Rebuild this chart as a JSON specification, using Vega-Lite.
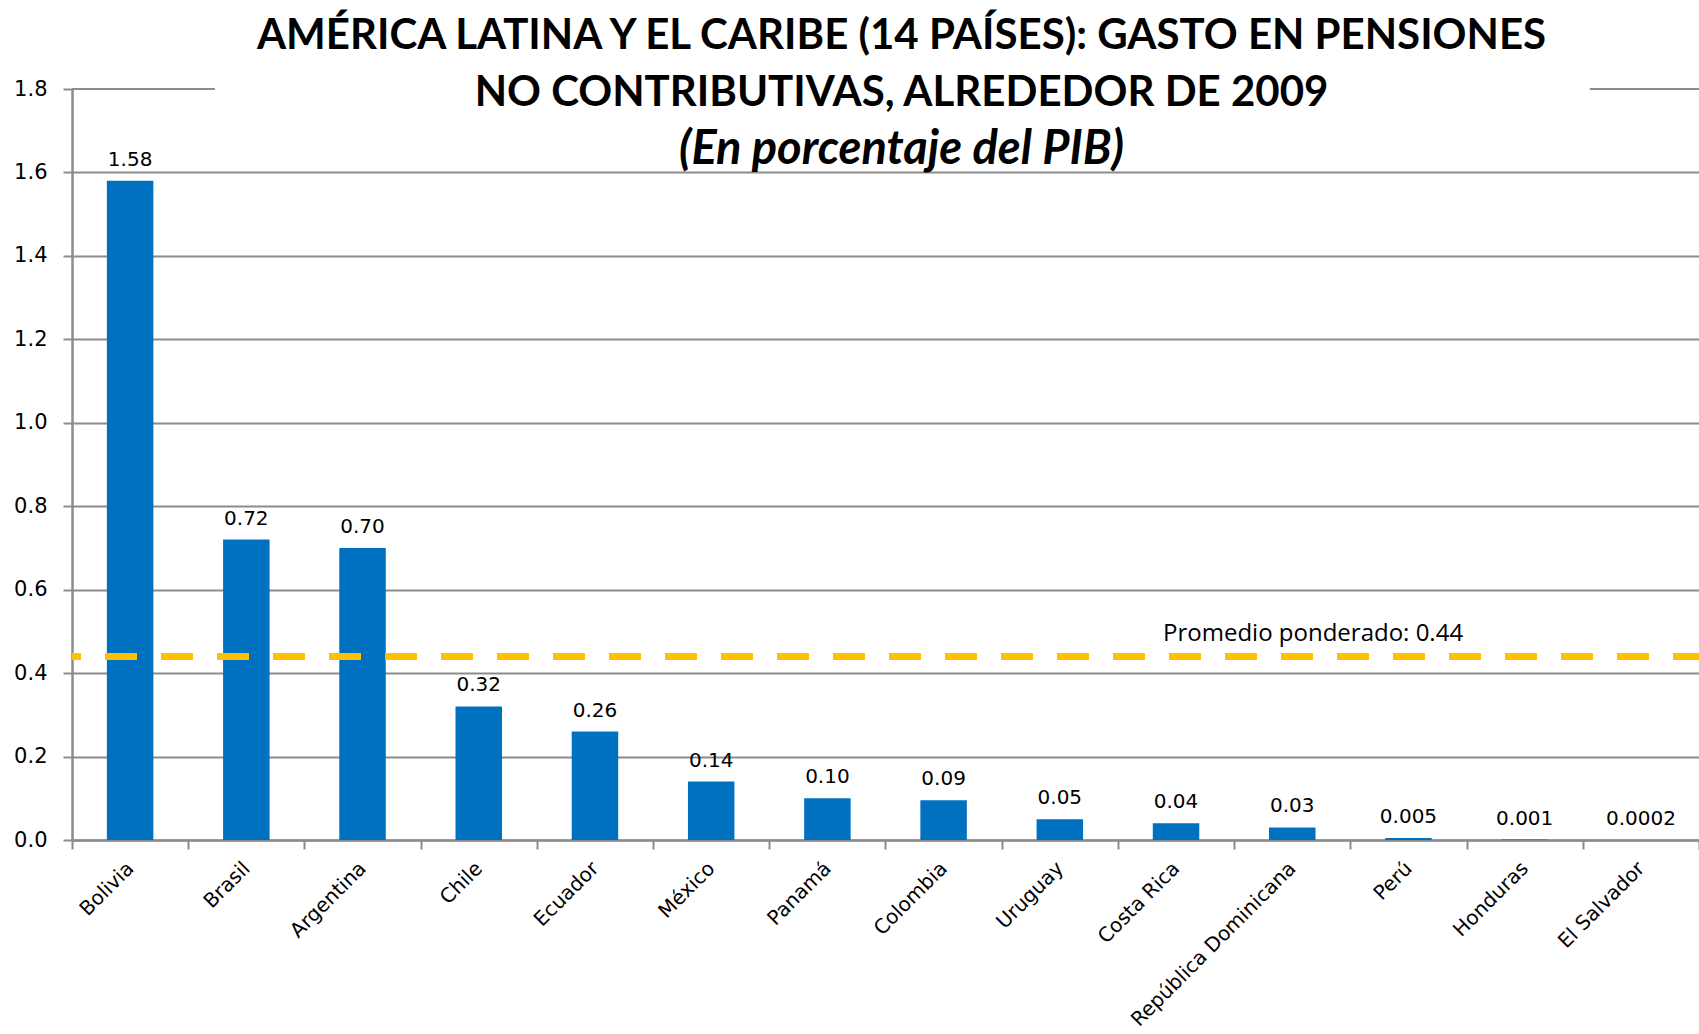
{
  "$schema": "https://vega.github.io/schema/vega-lite/v6.json",
  "width": 1627,
  "height": 751,
  "autosize": "none",
  "padding": {"left": 72, "top": 89, "right": 0, "bottom": 194},
  "background": "white",
  "title": {
    "text": ["AMÉRICA LATINA Y EL CARIBE (14 PAÍSES): GASTO EN PENSIONES", "NO CONTRIBUTIVAS, ALREDEDOR DE 2009"],
    "subtitle": "(En porcentaje del PIB)",
    "anchor": "middle",
    "frame": "group",
    "offset": -96,
    "dx": 16,
    "font": "Lato",
    "fontSize": 42,
    "fontWeight": "bold",
    "lineHeight": 57,
    "color": "#000000",
    "subtitleFont": "Lato",
    "subtitleFontSize": 47,
    "subtitleFontWeight": "bold",
    "subtitleFontStyle": "italic",
    "subtitleColor": "#000000",
    "subtitleLineHeight": 57,
    "subtitlePadding": 12
  },
  "config": {
    "view": {"stroke": null},
    "axis": {"labelFont": "DejaVu Sans", "labelColor": "#000000"}
  },
  "data": {
    "values": [
      {"pais": "Bolivia", "valor": 1.58, "etiqueta": "1.58"},
      {"pais": "Brasil", "valor": 0.72, "etiqueta": "0.72"},
      {"pais": "Argentina", "valor": 0.70, "etiqueta": "0.70"},
      {"pais": "Chile", "valor": 0.32, "etiqueta": "0.32"},
      {"pais": "Ecuador", "valor": 0.26, "etiqueta": "0.26"},
      {"pais": "México", "valor": 0.14, "etiqueta": "0.14"},
      {"pais": "Panamá", "valor": 0.10, "etiqueta": "0.10"},
      {"pais": "Colombia", "valor": 0.095, "etiqueta": "0.09"},
      {"pais": "Uruguay", "valor": 0.05, "etiqueta": "0.05"},
      {"pais": "Costa Rica", "valor": 0.04, "etiqueta": "0.04"},
      {"pais": "República Dominicana", "valor": 0.03, "etiqueta": "0.03"},
      {"pais": "Perú", "valor": 0.005, "etiqueta": "0.005"},
      {"pais": "Honduras", "valor": 0.001, "etiqueta": "0.001"},
      {"pais": "El Salvador", "valor": 0.0002, "etiqueta": "0.0002"}
    ]
  },
  "layer": [
    {
      "mark": {"type": "bar", "color": "#0070C0", "width": {"band": 0.4}},
      "encoding": {
        "x": {
          "field": "pais", "type": "nominal", "sort": null,
          "scale": {"paddingInner": 0, "paddingOuter": 0},
          "axis": {
            "title": null,
            "labelAngle": -45,
            "labelAlign": "right",
            "labelBaseline": "middle",
            "labelFontSize": 20,
            "labelPadding": 16,
            "labelLimit": 0,
            "tickBand": "extent",
            "tickSize": 9,
            "tickWidth": 2,
            "tickColor": "#8c8c8c",
            "domainColor": "#8c8c8c",
            "domainWidth": 2.5,
            "grid": false
          }
        },
        "y": {
          "field": "valor", "type": "quantitative",
          "scale": {"domain": [0, 1.8], "nice": false},
          "axis": {
            "title": null,
            "values": [0, 0.2, 0.4, 0.6, 0.8, 1.0, 1.2, 1.4, 1.6, 1.8],
            "format": ".1f",
            "labelFontSize": 21,
            "labelPadding": 16,
            "tickSize": 9,
            "tickWidth": 2,
            "tickColor": "#8c8c8c",
            "domainColor": "#8c8c8c",
            "domainWidth": 2.5,
            "grid": true,
            "gridColor": {"condition": {"test": "datum.value >= 1.75", "value": "rgba(0,0,0,0)"}, "value": "#8c8c8c"},
            "gridWidth": 2
          }
        }
      }
    },
    {
      "mark": {"type": "text", "font": "DejaVu Sans", "fontSize": 20, "color": "#000000", "baseline": "alphabetic", "dy": -15},
      "encoding": {
        "x": {"field": "pais", "type": "nominal", "sort": null},
        "y": {"field": "valor", "type": "quantitative"},
        "text": {"field": "etiqueta"}
      }
    },
    {
      "data": {"values": [{}]},
      "mark": {"type": "rule", "color": "#8c8c8c", "strokeWidth": 2},
      "encoding": {
        "x": {"datum": "Bolivia", "type": "nominal", "bandPosition": 0, "sort": null},
        "x2": {"datum": "Brasil", "bandPosition": 0.23},
        "y": {"datum": 1.8, "type": "quantitative"}
      }
    },
    {
      "data": {"values": [{}]},
      "mark": {"type": "rule", "color": "#8c8c8c", "strokeWidth": 2},
      "encoding": {
        "x": {"datum": "El Salvador", "type": "nominal", "bandPosition": 0.06, "sort": null},
        "x2": {"datum": "El Salvador", "bandPosition": 1},
        "y": {"datum": 1.8, "type": "quantitative"}
      }
    },
    {
      "data": {"values": [{}]},
      "mark": {"type": "rule", "color": "#FFC000", "strokeWidth": 7, "strokeDash": [32, 24], "strokeDashOffset": 6},
      "encoding": {
        "y": {"datum": 0.44, "type": "quantitative"}
      }
    },
    {
      "data": {"values": [{}]},
      "mark": {"type": "text", "font": "Open Sans", "fontSize": 24, "color": "#000000", "align": "left", "baseline": "alphabetic", "dx": -13, "dy": -15, "text": "Promedio ponderado: 0.44"},
      "encoding": {
        "x": {"datum": "Costa Rica", "type": "nominal", "sort": null},
        "y": {"datum": 0.44, "type": "quantitative"}
      }
    }
  ]
}
